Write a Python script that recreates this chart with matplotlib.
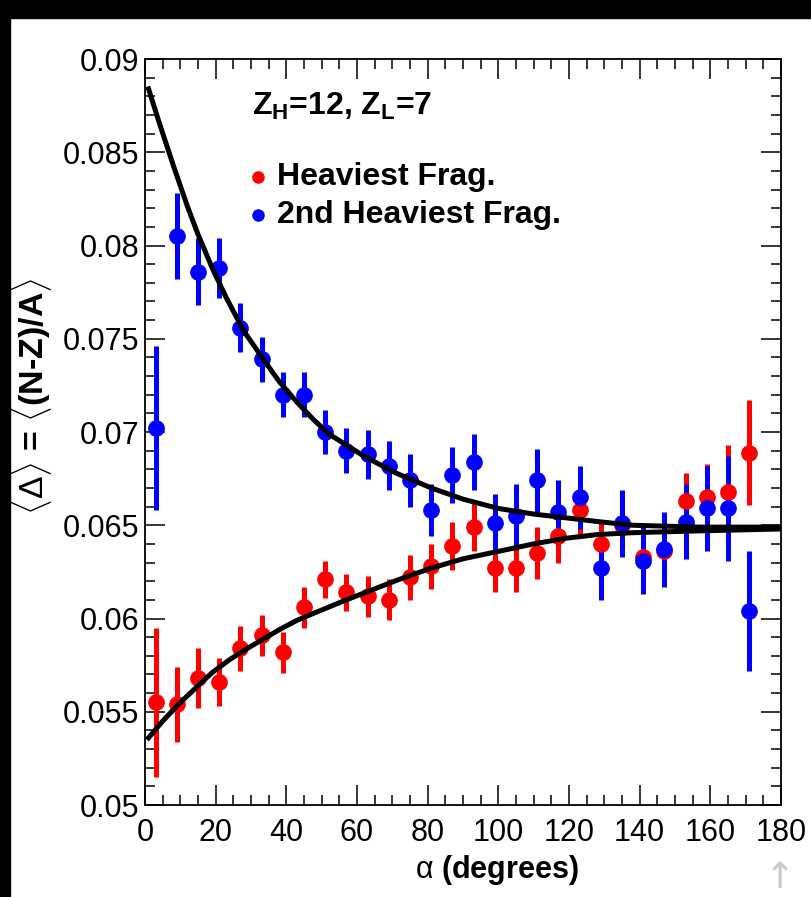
# -*- coding: utf-8 -*-

import matplotlib.pyplot as plt
import numpy as np
from matplotlib.patches import Rectangle

plt.rcParams['font.family'] = ['Liberation Sans', 'DejaVu Sans']
plt.rcParams['mathtext.fontset'] = 'custom'
plt.rcParams['mathtext.rm'] = 'Liberation Sans'
plt.rcParams['mathtext.it'] = 'Liberation Sans'
plt.rcParams['mathtext.bf'] = 'Liberation Sans:bold'

# bin centres (degrees)
alpha = [3, 9, 15, 21, 27, 33, 39, 45, 51, 57, 63, 69, 75, 81, 87, 93, 99,
         105, 111, 117, 123, 129, 135, 141, 147, 153, 159, 165, 171]

# heaviest fragment
heavy = [0.0555, 0.0554, 0.0568, 0.0566, 0.0584, 0.0591, 0.0582, 0.0606,
         0.0621, 0.0614, 0.0612, 0.0610, 0.0622, 0.0628, 0.0639, 0.0649,
         0.0627, 0.0627, 0.0635, 0.0644, 0.0658, 0.0640, 0.0650, 0.0633,
         0.0636, 0.0663, 0.0665, 0.0668, 0.0689]
heavy_err = [0.0040, 0.0020, 0.0016, 0.0013, 0.0012, 0.0011, 0.0011, 0.0011,
             0.0010, 0.0010, 0.0011, 0.0011, 0.0012, 0.0012, 0.0013, 0.0013,
             0.0013, 0.0013, 0.0014, 0.0014, 0.0013, 0.0013, 0.0014, 0.0014,
             0.0015, 0.0015, 0.0018, 0.0025, 0.0028]

# 2nd heaviest fragment
second = [0.0702, 0.0805, 0.0786, 0.0788, 0.0756, 0.0739, 0.0720, 0.0720,
          0.0700, 0.0690, 0.0688, 0.0682, 0.0674, 0.0658, 0.0677, 0.0684,
          0.0651, 0.0655, 0.0674, 0.0657, 0.0665, 0.0627, 0.0651, 0.0631,
          0.0637, 0.0652, 0.0659, 0.0659, 0.0604]
second_err = [0.0044, 0.0023, 0.0018, 0.0016, 0.0013, 0.0012, 0.0012, 0.0012,
              0.0012, 0.0012, 0.0013, 0.0013, 0.0014, 0.0014, 0.0015, 0.0015,
              0.0016, 0.0017, 0.0017, 0.0017, 0.0017, 0.0017, 0.0018, 0.0018,
              0.0020, 0.0020, 0.0023, 0.0028, 0.0032]

# fit curves
fit_hi_x = [1, 4, 8, 12, 15, 19, 23, 28, 33.5, 38, 43, 47.5, 52, 57, 62, 71,
            81, 90, 100, 110, 119, 128, 138, 157, 180]
fit_hi_y = [0.0884, 0.0866, 0.0843, 0.0821, 0.0806, 0.0788, 0.0772, 0.0754,
            0.0739, 0.0727, 0.0716, 0.0707, 0.0699, 0.0693, 0.0687, 0.0678,
            0.0670, 0.0664, 0.0659, 0.0656, 0.0654, 0.0652, 0.0650, 0.0649,
            0.0649]
fit_lo_x = [1, 5, 10, 14.5, 19, 24, 29, 33.5, 38, 43, 48, 57, 66.5, 72, 81,
            90, 100, 110, 119, 128, 138, 157, 180]
fit_lo_y = [0.0536, 0.0545, 0.0555, 0.0563, 0.0571, 0.0578, 0.0584, 0.0589,
            0.0594, 0.0599, 0.0603, 0.0610, 0.0617, 0.0621, 0.0627, 0.0632,
            0.0636, 0.0640, 0.0643, 0.0645, 0.0646, 0.0647, 0.0648]

fig = plt.figure(figsize = (8.12, 8.97), dpi = 100)
# black frame on top and left edges
fig.patches.append(Rectangle((0, 1 - 18/897.), 1, 18/897., color = 'k',
                             transform = fig.transFigure, zorder = 0))
fig.patches.append(Rectangle((0, 0), 10/812., 1, color = 'k',
                             transform = fig.transFigure, zorder = 0))

ax = fig.add_axes([145/812., 92/897., 636/812., 746/897.])

ax.errorbar(alpha, heavy, yerr = heavy_err, fmt = 'o', color = 'red',
            markersize = 11, elinewidth = 3.6, capsize = 0, zorder = 3)
ax.errorbar(alpha, second, yerr = second_err, fmt = 'o', color = 'blue',
            markersize = 11, elinewidth = 3.6, capsize = 0, zorder = 3)

ax.plot(fit_hi_x, fit_hi_y, 'k-', linewidth = 3.6, zorder = 4,
        solid_joinstyle = 'round')
ax.plot(fit_lo_x, fit_lo_y, 'k-', linewidth = 3.6, zorder = 4,
        solid_joinstyle = 'round')

ax.set_xlim(0, 180)
ax.set_ylim(0.05, 0.09)
ax.set_xticks(np.arange(0, 181, 20))
ax.set_xticks(np.arange(0, 181, 5), minor = True)
ax.set_yticks(np.arange(0.05, 0.0901, 0.005))
ax.set_yticks(np.arange(0.05, 0.0901, 0.001), minor = True)
ax.set_yticklabels(['0.05', '0.055', '0.06', '0.065', '0.07', '0.075',
                    '0.08', '0.085', '0.09'])

ax.tick_params(which = 'both', direction = 'in', top = True, right = True,
               labelsize = 22, width = 1.1, color = 'k')
ax.tick_params(which = 'major', length = 14.5)
ax.tick_params(which = 'minor', length = 7.5)
ax.tick_params(axis = 'x', pad = 9)
ax.tick_params(axis = 'y', pad = 4)
for s in ax.spines.values():
    s.set_linewidth(1.3)

# axis titles
ax.text(0.553, -0.087, r'$\alpha$ (degrees)', transform = ax.transAxes,
        ha = 'center', va = 'center', fontsize = 22, fontweight = 'bold')
ax.text(-0.178, 0.548, r'$\langle\Delta\rangle$ = $\langle$(N-Z)/A$\rangle$',
        transform = ax.transAxes, ha = 'center', va = 'center',
        rotation = 90, fontsize = 24.5, fontweight = 'bold')

# title and legend
ax.text(0.168, 0.925, r'$\mathbf{Z_{H}}$=12, $\mathbf{Z_{L}}$=7',
        transform = ax.transAxes, ha = 'left', va = 'baseline',
        fontsize = 23, fontweight = 'bold')
ax.plot([0.178], [0.842], 'o', color = 'red', markersize = 8,
        transform = ax.transAxes, clip_on = False)
ax.plot([0.178], [0.791], 'o', color = 'blue', markersize = 8,
        transform = ax.transAxes, clip_on = False)
ax.text(0.2075, 0.842, 'Heaviest Frag.', transform = ax.transAxes,
        ha = 'left', va = 'center', fontsize = 23, fontweight = 'bold')
ax.text(0.2075, 0.791, '2nd Heaviest Frag.', transform = ax.transAxes,
        ha = 'left', va = 'center', fontsize = 23, fontweight = 'bold')

fig.text(780/812., 1 - 878/897., u'\u2191', color = '#c8c8c8',
         ha = 'center', va = 'center', fontsize = 26, family = 'DejaVu Sans')

plt.savefig('out.png', dpi = 100)
